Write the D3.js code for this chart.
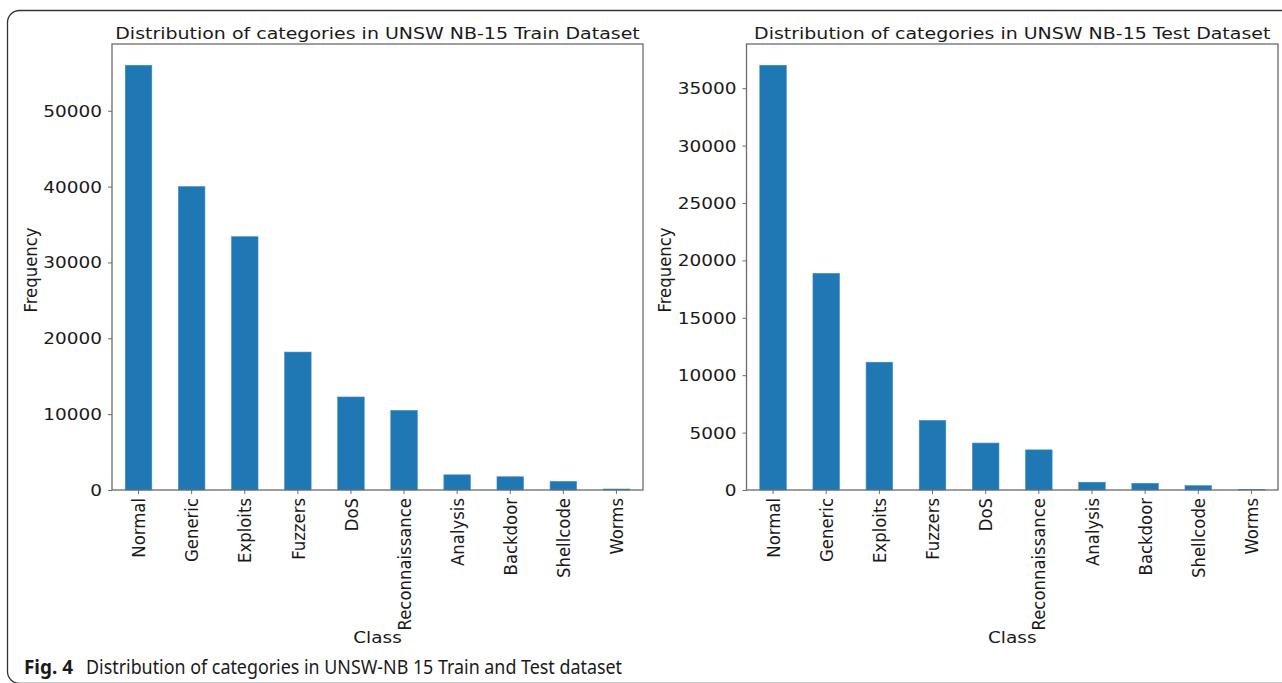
<!DOCTYPE html>
<html>
<head>
<meta charset="utf-8">
<script src="https://cdn.jsdelivr.net/npm/d3@7"></script>
<style>
  html, body { margin: 0; padding: 0; background: #fff; }
  svg { display: block; }
  text { font-family: "DejaVu Sans", sans-serif; fill: #1a1a1a; }
</style>
</head>
<body>
<svg id="chart" width="1282" height="683"></svg>
<script>
// ---- data ----
const categories = ["Normal", "Generic", "Exploits", "Fuzzers", "DoS", "Reconnaissance", "Analysis", "Backdoor", "Shellcode", "Worms"];
const trainValues = [56000, 40000, 33393, 18184, 12264, 10491, 2000, 1746, 1133, 130];
const testValues  = [37000, 18871, 11132, 6062, 4089, 3496, 677, 583, 378, 44];
const trainTicks = [0, 10000, 20000, 30000, 40000, 50000];
const testTicks  = [0, 5000, 10000, 15000, 20000, 25000, 30000, 35000];
const trainTitle = "Distribution of categories in UNSW NB-15 Train Dataset";
const testTitle  = "Distribution of categories in UNSW NB-15 Test Dataset";
const xLabel = "Class";
const yLabel = "Frequency";
const captionBold = "Fig. 4";
const captionText = "Distribution of categories in UNSW-NB 15 Train and Test dataset";

// ---- drawing ----
const svg = d3.select("#chart");
const FS = 16.5;     // font size
const SX = 1.12;     // horizontal stretch of the original raster
const SXT = 1.15;    // stretch for titles

// outer frame
svg.append("rect")
  .attr("x", 7.5).attr("y", 10.5)
  .attr("width", 1320).attr("height", 673)
  .attr("rx", 12).attr("ry", 12)
  .attr("fill", "none").attr("stroke", "#333").attr("stroke-width", 1.3);

function label(g, txt, x, y, anchor, rotate, dy, sx) {
  return g.append("text")
    .attr("transform", `translate(${x},${y}) scale(${sx || SX},1)` + (rotate ? ` rotate(${rotate})` : ""))
    .attr("text-anchor", anchor)
    .attr("dy", dy || 0)
    .style("font-size", FS + "px")
    .text(txt);
}

function drawPanel(opts) {
  const { left, right, top, bottom, values, ticks, title, ylabX } = opts;
  const g = svg.append("g");
  const maxV = d3.max(values) * 1.05;
  const x = d3.scaleBand().domain(categories).range([left, right]).paddingInner(0.5).paddingOuter(0.25);
  const y = d3.scaleLinear().domain([0, maxV]).range([bottom, top]);

  // bars
  g.selectAll("rect.bar").data(categories).enter().append("rect")
    .attr("class", "bar")
    .attr("x", d => x(d))
    .attr("width", x.bandwidth())
    .attr("y", (d, i) => y(values[i]))
    .attr("height", (d, i) => y(0) - y(values[i]))
    .attr("fill", "#1f77b4")
    .attr("stroke", "#3f8fc6").attr("stroke-width", 0.6);

  // frame (spines)
  g.append("rect")
    .attr("x", left).attr("y", top)
    .attr("width", right - left).attr("height", bottom - top)
    .attr("fill", "none").attr("stroke", "#6b6b6b").attr("stroke-width", 1.3);

  // y axis
  const yAxis = d3.axisLeft(y).tickValues(ticks).tickSize(4).tickFormat(d3.format("d"));
  const ya = g.append("g").attr("transform", `translate(${left},0)`).call(yAxis);
  ya.select(".domain").remove();
  ya.selectAll(".tick line").attr("stroke", "#6b6b6b").attr("stroke-width", 1);
  ya.selectAll(".tick text").remove();
  ticks.forEach(t => label(g, String(t), left - 10, y(t), "end", 0, "0.36em"));

  // x axis
  const xAxis = d3.axisBottom(x).tickSize(4);
  const xa = g.append("g").attr("transform", `translate(0,${bottom})`).call(xAxis);
  xa.select(".domain").remove();
  xa.selectAll(".tick line").attr("stroke", "#6b6b6b").attr("stroke-width", 1);
  xa.selectAll(".tick text").remove();
  categories.forEach(c => label(g, c, x(c) + x.bandwidth() / 2, bottom + 8, "end", -90, "0.36em"));

  // title
  label(g, title, (left + right) / 2, 38.5, "middle", 0, 0, SXT);
  // axis labels
  label(g, xLabel, (left + right) / 2, 643, "middle", 0, 0);
  label(g, yLabel, ylabX, (top + bottom) / 2 + 3, "middle", -90, 0);
}

drawPanel({ left: 112, right: 643, top: 44, bottom: 490, values: trainValues, ticks: trainTicks, title: trainTitle, ylabX: 37 });
drawPanel({ left: 746.5, right: 1278, top: 44, bottom: 490, values: testValues, ticks: testTicks, title: testTitle, ylabX: 671 });

// caption
const cap = svg.append("g");
cap.append("text")
  .attr("x", 24).attr("y", 674)
  .attr("textLength", 49).attr("lengthAdjust", "spacingAndGlyphs")
  .style("font-family", "'Liberation Sans Narrow', 'Noto Sans', sans-serif")
  .style("font-weight", "bold").style("font-size", "20px")
  .text(captionBold);
cap.append("text")
  .attr("x", 86).attr("y", 674)
  .attr("textLength", 536).attr("lengthAdjust", "spacingAndGlyphs")
  .style("font-family", "'Liberation Sans Narrow', 'Noto Sans', sans-serif")
  .style("font-size", "20px")
  .text(captionText);
</script>
</body>
</html>
